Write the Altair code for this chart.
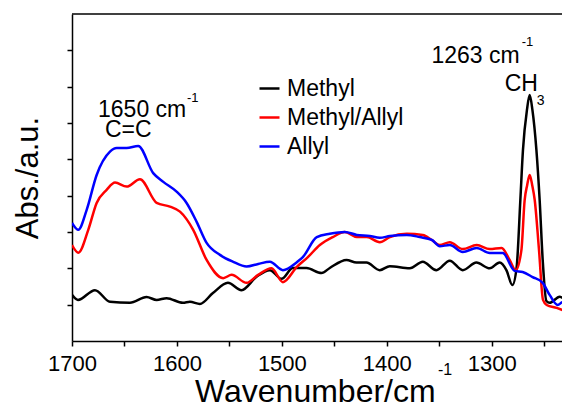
import altair as alt
import pandas as pd

series_names = ["Methyl", "Methyl/Allyl", "Allyl"]
series_colors = ["#000000", "#ff0000", "#0000ff"]

wn_methyl = [1700, 1694.3, 1678.1, 1663.8, 1644.8, 1628.9, 1619.3, 1609.8, 1594.3, 1587.6,
             1578.1, 1565.7, 1551.4, 1538.4, 1524.1, 1511.4, 1500.3, 1489.5, 1476.5, 1462.2,
             1454.3, 1438.4, 1428.9, 1419.3, 1406.7, 1397.1, 1378.1, 1365.7, 1352.7, 1340.0,
             1327.6, 1314.6, 1301.9, 1292.4, 1286.0, 1280.3, 1276.2, 1272.7, 1270.2, 1266.4,
             1263.8, 1261.2, 1257.4, 1254.3, 1251.4, 1247.9, 1244.8, 1235.2, 1227.6]
abs_methyl = [1.27, 1.13, 1.40, 1.08, 1.05, 1.21, 1.13, 1.18, 1.05, 1.08,
              1.02, 1.32, 1.60, 1.40, 1.77, 1.95, 1.71, 2.01, 2.01, 1.87,
              2.01, 2.23, 2.16, 2.16, 1.95, 2.06, 2.00, 2.18, 1.95, 2.21,
              1.95, 2.16, 2.00, 2.16, 1.95, 1.54, 2.04, 3.88, 5.26, 6.36,
              6.77, 6.36, 5.26, 3.88, 2.23, 1.10, 1.05, 1.22, 1.04]

wn_mixed = [1700, 1694.0, 1684.5, 1676.5, 1667.0, 1659.0, 1647.9, 1635.2, 1619.3, 1606.7,
            1597.1, 1584.5, 1571.7, 1555.9, 1547.9, 1533.6, 1522.6, 1509.8, 1499.0, 1485.7,
            1475.2, 1463.8, 1451.4, 1440.0, 1428.6, 1419.0, 1406.7, 1397.1, 1380.9, 1365.7,
            1357.1, 1349.5, 1340.0, 1327.6, 1314.3, 1301.9, 1290.5, 1282.9, 1277.1, 1271.7,
            1268.6, 1266.2, 1263.8, 1261.4, 1259.0, 1254.9, 1251.1, 1247.6, 1238.1, 1225.7]
abs_mixed = [2.64, 2.43, 3.06, 3.80, 4.16, 4.36, 4.25, 4.45, 3.80, 3.70,
             3.56, 3.06, 2.23, 1.73, 1.82, 1.60, 1.82, 2.00, 1.62, 2.04,
             2.31, 2.64, 2.86, 3.00, 2.86, 2.86, 2.72, 2.86, 2.95, 2.92,
             2.78, 2.64, 2.72, 2.53, 2.64, 2.53, 2.56, 2.23, 1.95, 2.50,
             3.88, 4.29, 4.57, 4.29, 3.88, 2.50, 1.13, 0.99, 0.91, 0.77]

wn_allyl = [1700, 1694.0, 1686.0, 1676.5, 1663.8, 1657.4, 1647.9, 1636.9, 1622.6, 1613.0,
            1600.3, 1590.8, 1581.2, 1571.7, 1559.0, 1546.4, 1533.6, 1522.6, 1511.4, 1499.0,
            1485.7, 1480.0, 1466.7, 1454.3, 1440.0, 1428.6, 1416.2, 1406.7, 1397.1, 1380.9,
            1368.6, 1357.1, 1349.5, 1340.0, 1327.6, 1314.3, 1301.9, 1289.5, 1278.1, 1270.5,
            1261.0, 1251.4, 1244.8, 1237.1, 1232.4, 1225.7]
abs_allyl = [3.25, 3.06, 3.61, 4.57, 5.21, 5.31, 5.31, 5.37, 4.62, 4.38,
             4.11, 3.80, 3.28, 2.70, 2.37, 2.18, 2.05, 2.12, 2.18, 1.95,
             2.17, 2.31, 2.86, 2.95, 3.00, 2.92, 2.89, 2.84, 2.89, 2.92,
             2.86, 2.78, 2.61, 2.64, 2.45, 2.56, 2.42, 2.42, 1.93, 1.90,
             1.76, 1.60, 1.27, 0.99, 1.07, 1.07]

ann_text = ["1650 cm", "-1", "C=C", "1263 cm", "-1", "CH", "3"]
ann_wn = [1675.2, 1590.5, 1668.6, 1357.4, 1271.4, 1287.6, 1257.1]
ann_abs = [6.36, 6.68, 5.80, 7.85, 8.24, 7.08, 6.60]
ann_size = [23, 13, 23, 23, 13, 23, 14]

x_title_main = "Wavenumber/cm"
x_title_sup = "-1"

x_ticks = [1250, 1300, 1350, 1400, 1450, 1500, 1550, 1600, 1650, 1700]
y_ticks = [1, 2, 3, 4, 5, 6, 7, 8]

rows = []
for name, xs, ys in [("Methyl", wn_methyl, abs_methyl),
                     ("Methyl/Allyl", wn_mixed, abs_mixed),
                     ("Allyl", wn_allyl, abs_allyl)]:
    for i, (a, b) in enumerate(zip(xs, ys)):
        rows.append({"series": name, "wn": a, "abs": b, "i": i})
df = pd.DataFrame(rows)
ann = pd.DataFrame({"t": ann_text, "wn": ann_wn, "abs": ann_abs, "s": ann_size})

W, H = 490, 327
FONT = "Liberation Sans"

xscale = alt.Scale(domain=[1233, 1700], reverse=True, nice=False, zero=False)
yscale = alt.Scale(domain=[0, 9], nice=False, zero=False)

lines = alt.Chart(df).mark_line(strokeWidth=2.5, interpolate="monotone", clip=True).encode(
    x=alt.X("wn:Q", scale=xscale,
            axis=alt.Axis(values=x_ticks, format="d", labelFlush=False,
                          labelExpr="datum.value % 100 == 0 ? datum.label : ''",
                          title="", grid=False,
                          labelFontSize=22,
                          tickSize=5, labelPadding=7,
                          domainWidth=1.5, tickWidth=1.5, domainColor="black",
                          tickColor="black", labelColor="black")),
    y=alt.Y("abs:Q", scale=yscale,
            axis=alt.Axis(values=y_ticks, labels=False, title="Abs./a.u.", grid=False,
                          titleFontSize=31, titleFontWeight="normal", tickSize=5,
                          titlePadding=22, domainWidth=1.5, tickWidth=1.5,
                          domainColor="black", tickColor="black", titleColor="black")),
    color=alt.Color("series:N",
                    scale=alt.Scale(domain=series_names, range=series_colors),
                    legend=alt.Legend(title=None, orient="none", legendX=186, legendY=63,
                                      symbolType="stroke", symbolSize=400,
                                      symbolStrokeWidth=2.5, labelFontSize=23,
                                      labelColor="black", rowPadding=5, labelOffset=6,
                                      padding=0)),
    order=alt.Order("i:Q"),
)

texts = alt.Chart(ann).mark_text(align="left", baseline="middle", color="black",
                                 font=FONT).encode(
    x=alt.X("wn:Q", scale=xscale),
    y=alt.Y("abs:Q", scale=yscale),
    text="t:N",
    size=alt.Size("s:Q", scale=None, legend=None),
)

one = pd.DataFrame({"a": [0]})
xtitle = alt.Chart(one).mark_text(align="left", baseline="alphabetic", fontSize=32,
                                  color="black", font=FONT, text=x_title_main).encode(
    x=alt.value(123), y=alt.value(388)
)
xtitle_sup = alt.Chart(one).mark_text(align="left", baseline="alphabetic", fontSize=16,
                                      color="black", font=FONT, text=x_title_sup).encode(
    x=alt.value(366), y=alt.value(361)
)

frame = alt.Chart(one).mark_rule(color="black", strokeWidth=1.5).encode(
    x=alt.value(0), x2=alt.value(W), y=alt.value(0)
)

chart = alt.layer(lines, texts, xtitle, xtitle_sup, frame).properties(
    width=W, height=H,
    autosize=alt.AutoSizeParams(type="none"),
    padding={"left": 64, "top": 6, "right": 0, "bottom": 68},
).configure(font=FONT).configure_view(stroke=None)

chart.save("out.html", embed_options={"renderer": "svg", "actions": False})
